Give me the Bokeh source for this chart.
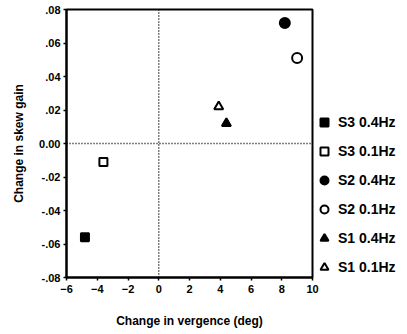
from bokeh.plotting import figure
from bokeh.models import (Range1d, FixedTicker, CustomJSTickFormatter, Span,
                          Legend, LegendItem)
from bokeh.embed import file_html
from bokeh.resources import INLINE

# ---- data ----
labels = ["S3 0.4Hz", "S3 0.1Hz", "S2 0.4Hz", "S2 0.1Hz", "S1 0.4Hz", "S1 0.1Hz"]
vergence = [-4.8, -3.6, 8.2, 9.0, 4.4, 3.9]
skew_gain = [-0.056, -0.011, 0.072, 0.051, 0.012, 0.022]
markers = ["square", "square", "circle", "circle", "triangle", "triangle"]
filled = [True, False, True, False, True, False]
sizes = [8, 8, 10, 10, 9, 9]

x_ticks = [-6, -4, -2, 0, 2, 4, 6, 8, 10]
y_ticks = [-0.08, -0.06, -0.04, -0.02, 0.0, 0.02, 0.04, 0.06, 0.08]

FONT = "Liberation Sans"

p = figure(frame_width=246, frame_height=268, output_backend="svg",
           toolbar_location=None,
           x_range=Range1d(-6, 10), y_range=Range1d(-0.08, 0.08),
           min_border_left=66, min_border_right=0, min_border_top=9,
           min_border_bottom=57)
p.background_fill_color = "white"
p.border_fill_color = "white"
p.outline_line_color = "black"
p.outline_line_width = 2
p.xgrid.visible = False
p.ygrid.visible = False

for ax in (p.xaxis[0], p.yaxis[0]):
    ax.axis_line_width = 2
    ax.major_tick_line_width = 1.5
    ax.major_tick_in = 0
    ax.major_tick_out = 3
    ax.minor_tick_line_color = None
    ax.major_label_text_font = FONT
    ax.major_label_text_font_style = "bold"
    ax.major_label_text_font_size = "11px"
    ax.major_label_text_color = "black"
    ax.axis_label_text_font = FONT
    ax.axis_label_text_font_style = "bold"
    ax.axis_label_text_font_size = "12px"
    ax.axis_label_text_color = "black"

p.xaxis.ticker = FixedTicker(ticks=x_ticks)
p.yaxis.ticker = FixedTicker(ticks=y_ticks)
p.yaxis.formatter = CustomJSTickFormatter(code="""
    if (Math.abs(tick) < 1e-9) { return "0.00"; }
    var s = Math.abs(tick).toFixed(2).substring(1);
    return (tick < 0 ? "-" : "") + s;
""")
p.xaxis.axis_label = "Change in vergence (deg)"
p.yaxis.axis_label = "Change in skew gain"
p.xaxis.major_label_standoff = 4
p.yaxis.major_label_standoff = 3
p.xaxis.axis_label_standoff = 18
p.yaxis.axis_label_standoff = 10

p.add_layout(Span(location=0, dimension="height", line_color="black",
                  line_dash="1 2", line_width=1.5))
p.add_layout(Span(location=0, dimension="width", line_color="black",
                  line_dash="1 2", line_width=1.5))

items = []
for i, lab in enumerate(labels):
    r = p.scatter(x=[vergence[i]], y=[skew_gain[i]], marker=markers[i],
                  size=sizes[i], line_color="black", line_width=2,
                  fill_color="black" if filled[i] else "white")
    items.append(LegendItem(label=lab, renderers=[r]))

legend = Legend(items=items, location="bottom_left",
                label_text_font=FONT, label_text_font_style="bold",
                label_text_font_size="14px", label_text_color="black",
                glyph_width=24, glyph_height=20, label_height=20,
                label_standoff=2, spacing=9, padding=4, margin=0,
                border_line_color=None, background_fill_alpha=0)
p.add_layout(legend, "right")

open("out.html", "w").write(file_html(p, INLINE))
